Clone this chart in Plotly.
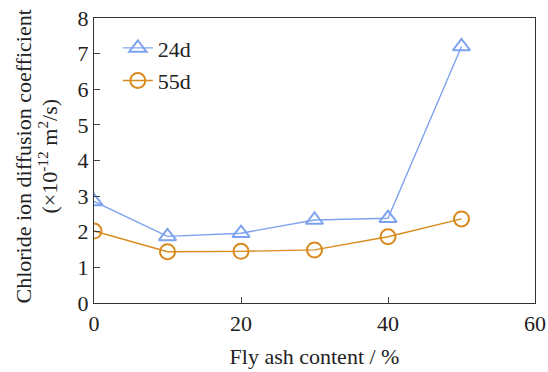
import plotly.graph_objects as go

fly_ash = [0, 10, 20, 30, 40, 50]
d24 = [2.85, 1.87, 1.96, 2.33, 2.38, 7.2]
d55 = [2.02, 1.44, 1.45, 1.49, 1.86, 2.36]

blue = "#7ea3ee"
orange = "#d88a1c"

fig = go.Figure()
fig.add_trace(go.Scatter(x=fly_ash, y=d24, name="24d", mode="lines+markers",
                         legendgroup="a",
                         line=dict(color=blue, width=1.4),
                         marker=dict(symbol="triangle-up-open", size=15, color=blue,
                                     line=dict(width=2, color=blue))))
fig.add_trace(go.Scatter(x=fly_ash, y=d55, name="55d", mode="lines+markers",
                         legendgroup="b",
                         line=dict(color=orange, width=1.4),
                         marker=dict(symbol="circle-open", size=15, color=orange,
                                     line=dict(width=2, color=orange))))

font = "Liberation Serif, Times New Roman, serif"
fig.update_layout(
    width=548, height=372,
    margin=dict(l=94, r=13, t=18, b=69, autoexpand=False),
    paper_bgcolor="white", plot_bgcolor="white",
    font=dict(family=font, size=22, color="#222"),
    showlegend=True,
    legend=dict(x=0.054, y=0.968, xanchor="left", yanchor="top",
                bgcolor="rgba(0,0,0,0)", font=dict(size=22, family=font),
                tracegroupgap=1),
    xaxis=dict(range=[0, 60], tickvals=[0, 20, 40, 60], ticks="inside", ticklen=6,
               showline=True, linecolor="#333", linewidth=1.2, mirror=True,
               showgrid=False, zeroline=False, automargin=False,
               ticklabeloverflow="allow",
               title=dict(text="Fly ash content / %", font=dict(size=22), standoff=14)),
    yaxis=dict(range=[0, 8], dtick=1, ticks="inside", ticklen=6,
               showline=True, linecolor="#333", linewidth=1.2, mirror=True,
               showgrid=False, zeroline=False, automargin=False,
               ticklabeloverflow="allow"),
    annotations=[
        dict(text="Chloride ion diffusion coefficient", textangle=-90,
             xref="paper", yref="paper", x=0, y=0.5, xanchor="center", yanchor="middle",
             xshift=-71, yshift=4, showarrow=False, font=dict(size=22)),
        dict(text="(×10<sup>-12</sup> m<sup>2</sup>/s)", textangle=-90,
             xref="paper", yref="paper", x=0, y=0.5, xanchor="center", yanchor="middle",
             xshift=-47, yshift=4, showarrow=False, font=dict(size=22)),
    ],
)
fig.write_html("out.html", config={"displayModeBar": False},
               post_script="document.body.style.margin='0';document.body.style.padding='0';")
